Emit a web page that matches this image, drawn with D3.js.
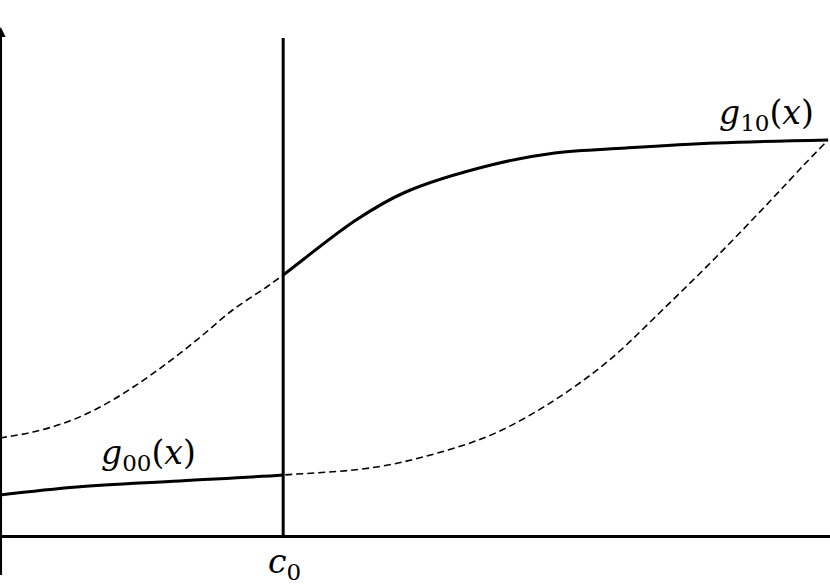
<!DOCTYPE html>
<html>
<head>
<meta charset="utf-8">
<script src="https://cdn.jsdelivr.net/npm/d3@7"></script>
<style>
  html, body { margin: 0; padding: 0; background: #fff; }
  svg { display: block; }
</style>
</head>
<body>
<svg id="chart" width="830" height="587"></svg>
<script>
// ---- data (abstract units: x in [0,10], y in [0,10]) ----
const g10X = [0.00, 0.40, 0.81, 1.21, 1.61, 2.02, 2.42, 2.81, 3.22, 3.42, 4.30, 4.90, 5.93, 6.70, 7.56, 8.65, 10.00];
const g10Y = [1.96, 2.08, 2.28, 2.58, 2.98, 3.46, 3.98, 4.52, 4.98, 5.22, 6.32, 6.88, 7.42, 7.66, 7.76, 7.86, 7.92];
const g00X = [0.00, 0.93, 2.17, 3.42, 4.55, 5.41, 6.01, 6.70, 7.36, 8.00, 8.65, 9.29, 9.72, 10.00];
const g00Y = [0.82, 0.98, 1.10, 1.22, 1.38, 1.72, 2.08, 2.72, 3.52, 4.52, 5.58, 6.68, 7.44, 7.92];
const cutoff = 3.42;               // c0
const labels = { g10: ["g", "10", "(", "x", ")"], g00: ["g", "00", "(", "x", ")"], c0: ["c", "0"] };

// ---- layout ----
const svg = d3.select("#chart");
const x = d3.scaleLinear().domain([0, 10]).range([0, 828]);
const y = d3.scaleLinear().domain([0, 10]).range([536, 36]);

const g10 = g10X.map((v, i) => [v, g10Y[i]]);
const g00 = g00X.map((v, i) => [v, g00Y[i]]);
const line = d3.line().x(d => x(d[0])).y(d => y(d[1])).curve(d3.curveCatmullRom.alpha(0.5));

const defs = svg.append("defs");
defs.append("clipPath").attr("id", "right")
  .append("rect").attr("x", x(cutoff)).attr("y", 0).attr("width", 830 - x(cutoff)).attr("height", 587);
defs.append("clipPath").attr("id", "left")
  .append("rect").attr("x", 0).attr("y", 0).attr("width", x(cutoff)).attr("height", 587);

// dashed full curves
[g10, g00].forEach(data => {
  svg.append("path").attr("d", line(data))
    .attr("fill", "none").attr("stroke", "#000")
    .attr("stroke-width", 1.6).attr("stroke-dasharray", "7,4");
});

// solid observed parts
svg.append("path").attr("d", line(g10)).attr("clip-path", "url(#right)")
  .attr("fill", "none").attr("stroke", "#000").attr("stroke-width", 3);
svg.append("path").attr("d", line(g00)).attr("clip-path", "url(#left)")
  .attr("fill", "none").attr("stroke", "#000").attr("stroke-width", 3);

// axes
svg.append("line").attr("x1", 0).attr("x2", 830).attr("y1", y(0) + 0.5).attr("y2", y(0) + 0.5)
  .attr("stroke", "#000").attr("stroke-width", 3);
svg.append("line").attr("x1", 0.8).attr("x2", 0.8).attr("y1", 30).attr("y2", 575)
  .attr("stroke", "#000").attr("stroke-width", 2.5);
svg.append("path").attr("d", "M0.8,27 L-4,37 L5.6,37 Z").attr("fill", "#000");

// cutoff line
svg.append("line").attr("x1", x(cutoff)).attr("x2", x(cutoff)).attr("y1", 38).attr("y2", y(0))
  .attr("stroke", "#000").attr("stroke-width", 3);

// labels
function mathLabel(parts, px, py) {
  const t = svg.append("text").attr("x", px).attr("y", py)
    .attr("font-family", "'DejaVu Serif', 'Liberation Serif', serif")
    .attr("font-size", 33).attr("fill", "#000");
  parts.forEach((p, i) => {
    const s = t.append("tspan").text(p);
    if (i === 1) s.attr("font-size", 23).attr("dy", 7);
    else if (i === 2) s.attr("dy", -7);
    if (p === "g" || p === "x" || p === "c") s.attr("font-style", "italic");
  });
  return t;
}
mathLabel(labels.g10, 719, 124);
mathLabel(labels.g00, 101, 464);
mathLabel(labels.c0, 268, 573);
</script>
</body>
</html>
